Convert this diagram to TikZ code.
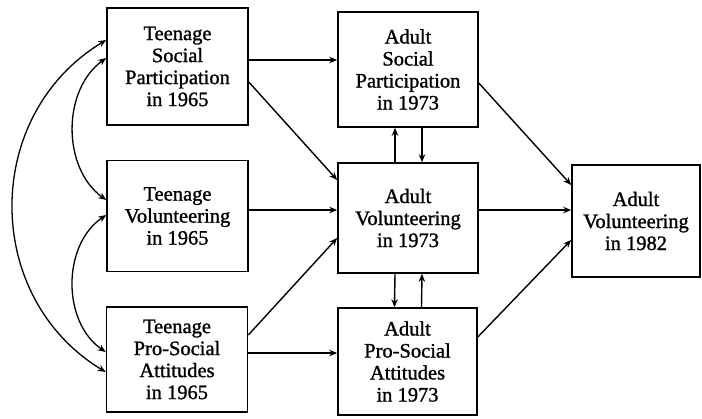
\documentclass[tikz,border=0pt]{standalone}
\usepackage{fontspec}
\setmainfont{Liberation Serif}
\newfontfamily\heavyfont{Liberation Serif}[FakeBold=1.2]
\usetikzlibrary{arrows.meta}
\begin{document}
\begin{tikzpicture}[x=1pt,y=-1pt,
  box/.style={draw, line width=1.6pt, inner sep=0pt, align=center,
    font=\heavyfont\fontsize{20.5}{22}\selectfont},
  arr/.style={line width=1.4pt, -{Stealth[length=8pt,width=6.5pt]}},
  darr/.style={line width=1.3pt, {Stealth[length=8pt,width=6.5pt]}-{Stealth[length=8pt,width=6.5pt]}}]
\useasboundingbox (0,0) rectangle (702,418);
\node[box, minimum width=141pt, minimum height=117pt] (T1) at (177.5,66.5) {Teenage\\Social\\Participation\\in 1965};
\node[box, minimum width=141pt, minimum height=111pt] (T2) at (177.5,216) {Teenage\\Volunteering\\in 1965};
\node[box, minimum width=141pt, minimum height=105pt] (T3) at (177,359.5) {Teenage\\Pro-Social\\Attitudes\\in 1965};
\node[box, minimum width=140pt, minimum height=115pt] (A1) at (408,69.5) {Adult\\Social\\Participation\\in 1973};
\node[box, minimum width=140pt, minimum height=110pt] (A2) at (408,218) {Adult\\Volunteering\\in 1973};
\node[box, minimum width=139pt, minimum height=107pt] (A3) at (407.5,361.5) {Adult\\Pro-Social\\Attitudes\\in 1973};
\node[box, minimum width=128pt, minimum height=112pt] (F) at (636,221) {Adult\\Volunteering\\in 1982};
% horizontal arrows
\draw[arr] ([yshift=6.5pt]T1.east) -- ([yshift=6.5pt]T1.east -| A1.west);
\draw[arr] ([yshift=6pt]T2.east) -- ([yshift=6pt]T2.east -| A2.west);
\draw[arr] ([yshift=6.5pt]T3.east) -- ([yshift=6.5pt]T3.east -| A3.west);
\draw[arr] ([yshift=8pt]A2.east) -- ([yshift=8pt]A2.east -| F.west);
% diagonal arrows
\draw[arr] ([yshift=-15.5pt]T1.east) -- ([yshift=38pt]A2.west);
\draw[arr] ([yshift=24.5pt]T3.east) -- ([yshift=-20pt]A2.west);
\draw[arr] ([yshift=-13.5pt]A1.east) -- ([yshift=36pt]F.west);
\draw[arr] ([yshift=24.5pt]A3.east) -- ([yshift=-19pt]F.west);
% vertical pairs
\draw[arr] ([xshift=-13pt]A2.north) -- ([xshift=-13pt]A1.south);
\draw[arr] ([xshift=14pt]A1.south) -- ([xshift=14pt]A2.north);
\draw[arr] ([xshift=-13pt]A2.south) -- ([xshift=-13pt]A3.north);
\draw[arr] ([xshift=14pt]A3.north) -- ([xshift=14pt]A2.south);
% correlation arcs
\draw[darr] ([yshift=8.5pt]T1.west) .. controls (62,90) and (62,168) .. ([yshift=16pt]T2.west);
\draw[darr] ([yshift=1pt]T2.west) .. controls (62,245) and (62,322) .. ([yshift=7.5pt]T3.west);
\draw[darr] ([yshift=26.5pt]T1.west) .. controls (-18,115) and (-18,297) .. ([yshift=-12.5pt]T3.west);
\end{tikzpicture}
\end{document}
